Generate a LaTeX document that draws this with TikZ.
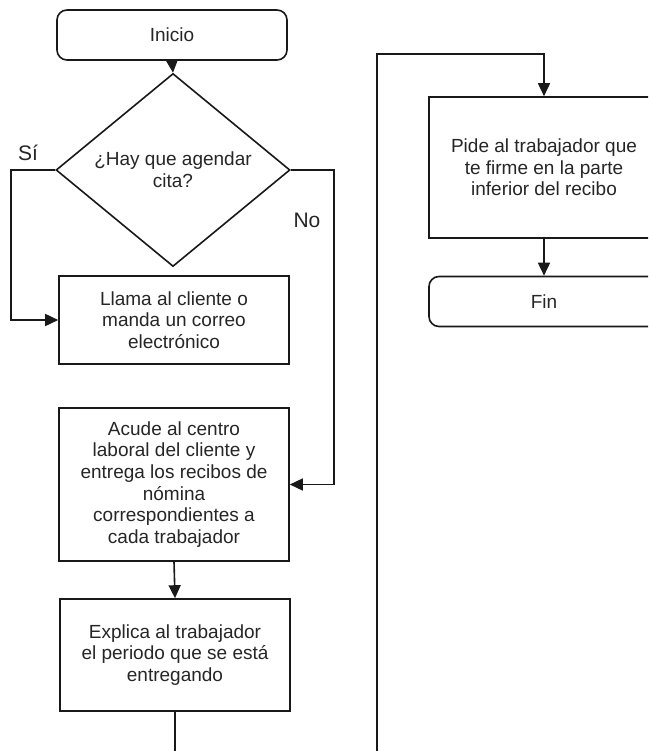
\documentclass[tikz,border=0pt]{standalone}
\usepackage{fontspec}
\setmainfont{Liberation Sans}
\usetikzlibrary{shapes.geometric,arrows.meta}

\tikzset{
  flow/.style={line width=1.6pt, draw=black!90},
  arr/.style={flow, -{Triangle[length=13pt,width=12pt]}},
  stepbox/.style={draw=black!90, line width=1.6pt, rectangle, align=center,
    minimum width=230pt, inner sep=0pt, text=black!85,
    font=\fontsize{19}{21.7}\selectfont},
  terminal/.style={stepbox, rounded corners=10pt, minimum height=50pt},
  decision/.style={stepbox, diamond, minimum width=234pt, minimum height=144pt},
  branchlabel/.style={inner sep=0pt, text=black!85, font=\fontsize{21}{24}\selectfont},
}

\begin{document}
\begin{tikzpicture}[x=1pt, y=-1pt]
  \useasboundingbox (0,0) rectangle (648,751);
  \clip (0,0) rectangle (648,751);
  \fill[white] (0,0) rectangle (648,751);

  % left column
  \node[terminal] (inicio) at (172,35) {Inicio};
  \node[decision] (pregunta) at (173,170) {¿Hay que agendar\\cita?};
  \node[stepbox, minimum height=88pt] (llama) at (174,320)
    {Llama al cliente o\\manda un correo\\electrónico};
  \node[stepbox, minimum height=153pt] (acude) at (174,484.5)
    {Acude al centro\\laboral del cliente y\\entrega los recibos de\\nómina\\correspondientes a\\cada trabajador};
  \node[stepbox, minimum height=112pt] (explica) at (175,655)
    {Explica al trabajador\\el periodo que se está\\entregando};

  % right column
  \node[stepbox, minimum height=141pt] (pide) at (544,167.5)
    {Pide al trabajador que\\te firme en la parte\\inferior del recibo};
  \node[terminal] (fin) at (544,301.5) {Fin};

  % branch labels
  \node[branchlabel] (si) at (28,153) {Sí};
  \node[branchlabel] (no) at (307,220) {No};

  % page-break connector ends
  \coordinate (salida) at (175,770);
  \coordinate (entrada) at (377,770);
  \coordinate (arriba) at (544,54);

  % connectors
  \draw[arr] (inicio.south) -- (pregunta.north);
  \draw[arr] (pregunta.west) -- ++(-44,0) |- (llama.west);
  \draw[arr] (pregunta.east) -- ++(43,0) |- (acude.east);
  \draw[arr] (acude.south) -- (explica.north);
  \draw[flow] (explica.south) -- (salida);
  \draw[arr] (entrada) |- (arriba) -- (pide.north);
  \draw[arr] (pide.south) -- (fin.north);
\end{tikzpicture}
\end{document}
